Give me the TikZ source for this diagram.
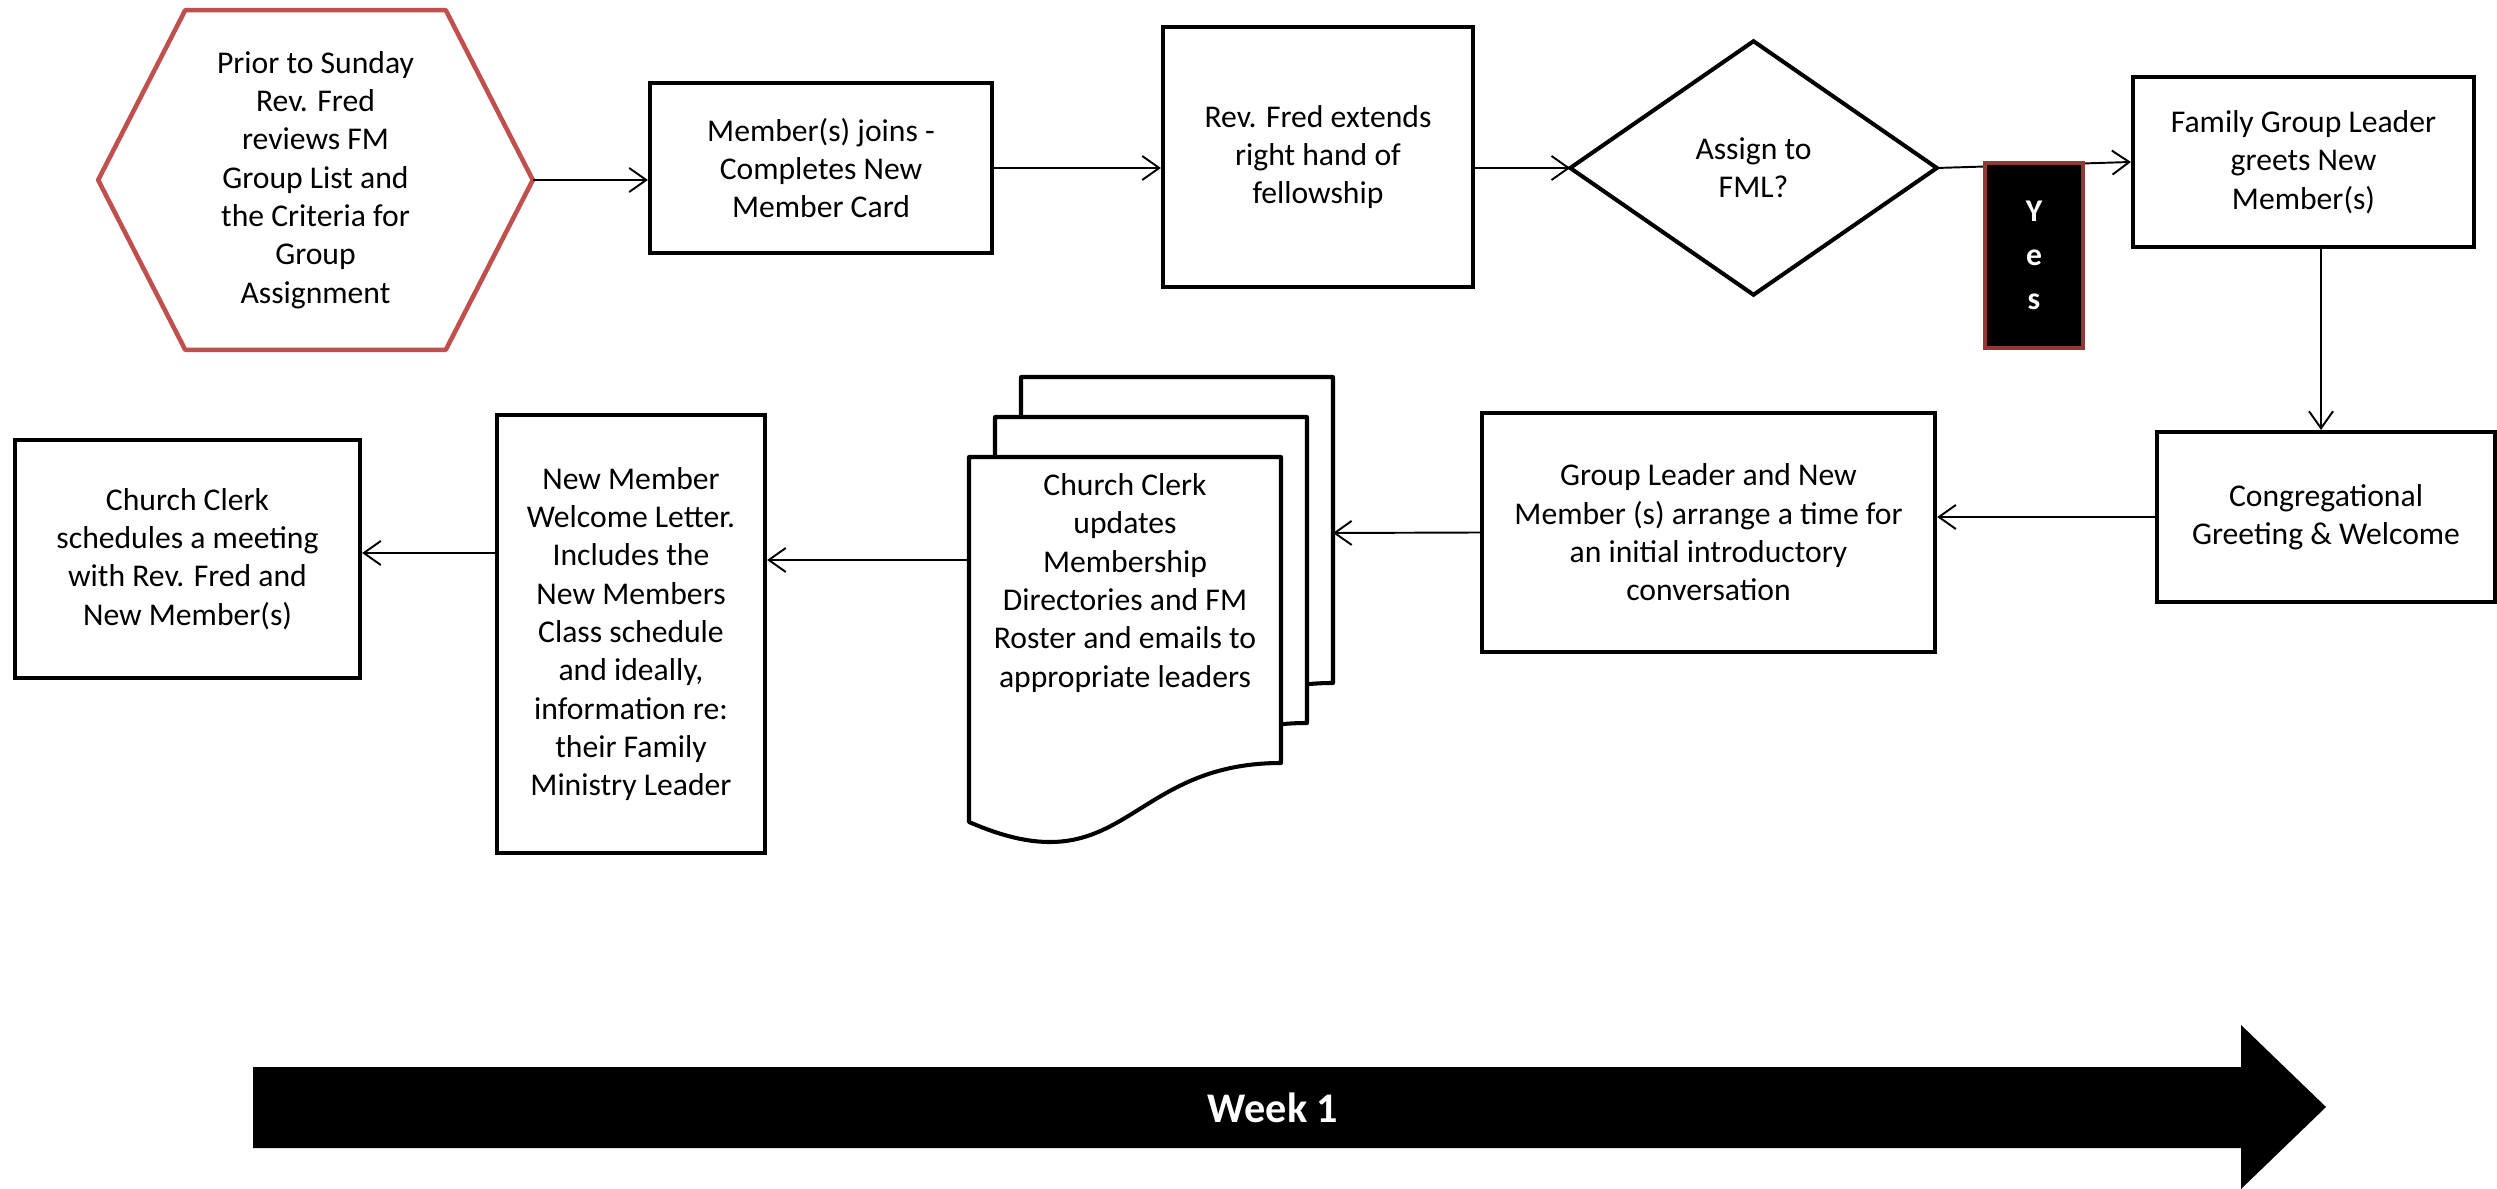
\documentclass[tikz,border=0pt]{standalone}
\usepackage{fontspec}
\setmainfont{Carlito}
\usetikzlibrary{arrows.meta}
\definecolor{hexred}{HTML}{C0504D}
\definecolor{yesred}{HTML}{953735}
\begin{document}
\begin{tikzpicture}[x=0.01cm,y=-0.01cm,
  box/.style={draw=black, line width=1.15pt, fill=white, align=center, inner sep=0pt, font=\fontsize{9}{10.9}\selectfont},
  plain/.style={align=center, inner sep=0pt, font=\fontsize{9}{10.9}\selectfont},
  conn/.style={line width=0.55pt, -{Straight Barb[length=1.7mm,width=2.4mm]}},
  pageline/.style={draw=black, line width=1.15pt, fill=white, line join=round}]
\useasboundingbox (0,0) rectangle (2497,1189);

% hexagon
\node[plain, minimum width=4.33cm, minimum height=3.38cm] (hex) at (315.5,180)
  {Prior to Sunday\\Rev. Fred\\reviews FM\\Group List and\\the Criteria for\\Group\\Assignment};
\draw[hexred, line width=1.3pt, line join=round] (hex.west) -- ([xshift=0.87cm]hex.north west)
  -- ([xshift=-0.87cm]hex.north east) -- (hex.east) -- ([xshift=-0.87cm]hex.south east)
  -- ([xshift=0.87cm]hex.south west) -- cycle;

\node[box, minimum width=3.42cm, minimum height=1.70cm] (member) at (821,168)
  {Member(s) joins -\\Completes New\\Member Card};
\node[box, minimum width=3.10cm, minimum height=2.60cm] (revfred) at (1318,157)
  {Rev. Fred extends\\right hand of\\fellowship};

% diamond
\node[plain, minimum width=3.65cm, minimum height=2.52cm] (dia) at (1753.5,168) {Assign to\\FML?};
\draw[line width=1.15pt, line join=miter] (dia.west) -- (dia.north) -- (dia.east) -- (dia.south) -- cycle;

\node[box, minimum width=3.41cm, minimum height=1.70cm] (fam) at (2303.5,162)
  {Family Group Leader\\greets New\\Member(s)};
\node[box, minimum width=3.38cm, minimum height=1.70cm] (cong) at (2326,517)
  {Congregational\\Greeting \& Welcome};
\node[box, minimum width=4.53cm, minimum height=2.39cm] (grp) at (1708.5,532.5)
  {Group Leader and New\\Member (s) arrange a time for\\an initial introductory\\conversation};

% multi-document
\foreach \dx/\dy in {52/-80, 26/-40, 0/0}
  \draw[pageline, shift={(\dx,\dy)}] (969,457) -- (1281,457) -- (1281,763)
    .. controls (1125,763) and (1125,890) .. (969,822) -- cycle;
\node[plain] (doc) at (1125,583)
  {Church Clerk\\updates\\Membership\\Directories and FM\\Roster and emails to\\appropriate leaders};
\coordinate (docin) at (1333,533);
\coordinate (docout) at (969,560);

\node[box, minimum width=2.68cm, minimum height=4.38cm] (newm) at (631,634)
  {New Member\\Welcome Letter.\\Includes the\\New Members\\Class schedule\\and ideally,\\information re:\\their Family\\Ministry Leader};
\node[box, minimum width=3.45cm, minimum height=2.38cm] (clerk) at (187.5,559)
  {Church Clerk\\schedules a meeting\\with Rev. Fred and\\New Member(s)};

% connectors
\draw[conn] (hex.east) -- (hex.east -| member.west);
\draw[conn] (member.east) -- (member.east -| revfred.west);
\draw[conn] (revfred.east |- dia.west) -- (dia.west);
\draw[conn] (dia.east) -- (fam.west);
\draw[conn] ([xshift=-0.05cm]fam.south -| cong.north) -- ([xshift=-0.05cm]cong.north);
\draw[conn] (cong.west) -- (cong.west -| grp.east);
\draw[conn] (grp.west) -- (docin);
\draw[conn] (docout) -- (newm.east |- docout);
\draw[conn] ([yshift=0.06cm]newm.west |- clerk.east) -- ([yshift=0.06cm]clerk.east);

% Yes label
\node[draw=yesred, fill=black, line width=1.15pt, minimum width=0.98cm, minimum height=1.85cm,
  inner sep=0pt, align=center, text=white, font=\bfseries\fontsize{9}{12.5}\selectfont]
  (yes) at (2034,255.5) {Y\\e\\s};

% timeline arrow
\fill[black] (253,1067) -- (2241,1067) -- (2241,1025) -- (2326,1107) -- (2241,1189)
  -- (2241,1148) -- (253,1148) -- cycle;
\node[text=white, font=\bfseries\fontsize{12}{14}\selectfont, inner sep=0pt] (week) at (1273,1108) {Week 1};
\end{tikzpicture}
\end{document}
